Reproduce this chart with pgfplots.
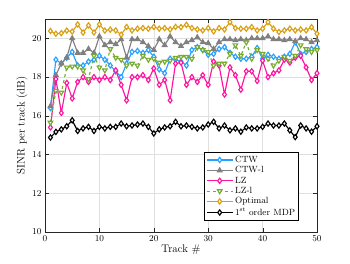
\documentclass[border=0pt]{standalone}
\usepackage{pgfplots}
\pgfplotsset{compat=1.18}
\usetikzlibrary{calc}
\definecolor{ctwc}{RGB}{40,160,255}
\definecolor{ctwlc}{RGB}{128,128,128}
\definecolor{lzc}{RGB}{255,20,160}
\definecolor{lzlc}{RGB}{119,172,48}
\definecolor{optc}{RGB}{218,160,20}
\definecolor{axc}{RGB}{38,38,38}
\begin{document}
\begin{tikzpicture}
\begin{axis}[name=ax,
  scale only axis, width=272pt, height=213pt,
  xmin=0, xmax=50, ymin=10, ymax=21,
  xtick={0,10,20,30,40,50}, ytick={10,12,14,16,18,20},
  grid=major, major grid style={color=black!12, line width=0.4pt},
  axis line style={color=axc, line width=0.6pt},
  tick style={color=axc},
  tick label style={font=\small, color=black},
  xlabel={Track \#}, ylabel={SINR per track (dB)},
  label style={font=\fontsize{11}{13}\selectfont},
  xlabel style={yshift=3pt}, ylabel style={yshift=-2pt},
  legend style={at={(0.934,0.052)}, anchor=south east, font=\small,
    draw=black, line width=0.8pt, fill=white, cells={anchor=west},
    row sep=-1.4pt, inner sep=1.5pt},
  legend image code/.code={\draw[mark repeat=2,mark phase=2,#1] plot coordinates {(0cm,0cm) (0.45cm,0cm) (0.9cm,0cm)};},
  every axis plot/.append style={line width=1.15pt, mark size=2.6pt},
]
\addplot[color=ctwc, mark=diamond*, mark options={solid, fill=white}] coordinates {
(1,16.4)(2,18.9)(3,18.7)(4,19.0)(5,19.3)(6,18.6)(7,18.6)(8,18.8)(9,18.9)(10,19.1)
(11,18.9)(12,18.6)(13,18.3)(14,18.0)(15,18.7)(16,19.3)(17,19.35)(18,19.25)(19,19.4)(20,19.05)
(21,18.4)(22,18.2)(23,18.95)(24,18.9)(25,18.8)(26,18.6)(27,19.4)(28,19.55)(29,19.4)(30,19.15)
(31,19.2)(32,19.45)(33,19.55)(34,19.25)(35,19.05)(36,18.95)(37,18.95)(38,19.05)(39,19.5)(40,18.95)
(41,19.15)(42,19.05)(43,18.95)(44,19.05)(45,19.2)(46,19.8)(47,19.2)(48,19.3)(49,19.45)(50,19.55)};
\addlegendentry{CTW}
\addplot[color=ctwlc, mark=triangle*, mark options={solid, fill=ctwlc}] coordinates {
(1,16.5)(2,18.1)(3,18.7)(4,19.0)(5,20.0)(6,19.25)(7,19.25)(8,19.45)(9,19.25)(10,20.1)
(11,19.65)(12,19.8)(13,19.7)(14,19.95)(15,19.0)(16,19.95)(17,19.95)(18,19.8)(19,19.6)(20,19.4)
(21,19.95)(22,19.65)(23,20.1)(24,19.8)(25,19.6)(26,19.8)(27,19.9)(28,20.05)(29,19.8)(30,19.75)
(31,19.45)(32,19.8)(33,19.95)(34,19.95)(35,19.9)(36,19.95)(37,19.9)(38,20.0)(39,20.0)(40,20.0)
(41,20.1)(42,19.95)(43,19.95)(44,19.9)(45,19.95)(46,19.85)(47,20.0)(48,19.95)(49,19.8)(50,19.9)};
\addlegendentry{CTW-l}
\addplot[color=lzc, mark=diamond*, mark options={solid, fill=white}] coordinates {
(1,15.4)(2,17.9)(3,16.15)(4,17.7)(5,16.9)(6,17.75)(7,18.0)(8,17.75)(9,18.0)(10,17.85)
(11,18.0)(12,17.85)(13,18.35)(14,17.6)(15,16.8)(16,18.0)(17,18.0)(18,18.1)(19,17.85)(20,18.45)
(21,17.6)(22,17.85)(23,16.8)(24,18.7)(25,18.75)(26,17.6)(27,18.0)(28,17.75)(29,18.1)(30,17.6)
(31,18.8)(32,18.6)(33,17.1)(34,18.5)(35,18.1)(36,17.35)(37,18.3)(38,18.3)(39,17.8)(40,18.85)
(41,18.0)(42,18.2)(43,18.35)(44,18.9)(45,18.75)(46,19.0)(47,19.1)(48,18.5)(49,17.85)(50,18.2)};
\addlegendentry{LZ}
\addplot[color=lzlc, dashed, mark=triangle*, mark options={solid, rotate=180, fill=white}] coordinates {
(1,15.65)(2,17.3)(3,17.2)(4,18.5)(5,18.55)(6,18.55)(7,18.35)(8,17.9)(9,19.1)(10,18.5)
(11,18.35)(12,19.45)(13,19.0)(14,18.9)(15,18.6)(16,18.7)(17,18.6)(18,19.1)(19,18.9)(20,18.95)
(21,18.75)(22,18.8)(23,18.85)(24,19.0)(25,19.05)(26,19.05)(27,18.95)(28,19.55)(29,19.4)(30,19.3)
(31,18.6)(32,18.7)(33,18.7)(34,19.2)(35,19.65)(36,19.1)(37,19.8)(38,18.95)(39,19.4)(40,19.2)
(41,18.95)(42,18.6)(43,18.85)(44,19.05)(45,18.85)(46,19.1)(47,19.65)(48,19.45)(49,19.3)(50,19.4)};
\addlegendentry{LZ-l}
\addplot[color=optc, mark=diamond*, mark options={solid, fill=white}] coordinates {
(1,20.38)(2,20.24)(3,20.27)(4,20.4)(5,20.35)(6,20.72)(7,20.3)(8,20.67)(9,20.3)(10,20.72)
(11,20.4)(12,20.45)(13,20.41)(14,20.19)(15,20.59)(16,20.41)(17,20.5)(18,20.53)(19,20.5)(20,20.59)
(21,20.5)(22,20.53)(23,20.46)(24,20.59)(25,20.58)(26,20.7)(27,20.53)(28,20.46)(29,20.41)(30,20.53)
(31,20.36)(32,20.53)(33,20.46)(34,20.84)(35,20.53)(36,20.5)(37,20.5)(38,20.58)(39,20.41)(40,20.5)
(41,20.84)(42,20.5)(43,20.33)(44,20.41)(45,20.5)(46,20.41)(47,20.46)(48,20.41)(49,20.58)(50,20.24)};
\addlegendentry{Optimal}
\addplot[color=black, mark=diamond*, mark options={solid, fill=white}] coordinates {
(1,14.88)(2,15.17)(3,15.3)(4,15.46)(5,15.77)(6,15.22)(7,15.35)(8,15.43)(9,15.22)(10,15.43)
(11,15.35)(12,15.43)(13,15.43)(14,15.6)(15,15.46)(16,15.5)(17,15.55)(18,15.6)(19,15.43)(20,15.09)
(21,15.3)(22,15.4)(23,15.46)(24,15.69)(25,15.46)(26,15.5)(27,15.43)(28,15.35)(29,15.4)(30,15.55)
(31,15.69)(32,15.35)(33,15.5)(34,15.25)(35,15.35)(36,15.18)(37,15.4)(38,15.35)(39,15.35)(40,15.43)
(41,15.6)(42,15.5)(43,15.5)(44,15.6)(45,15.25)(46,14.9)(47,15.5)(48,15.35)(49,15.18)(50,15.46)};
\addlegendentry{1$^{\mathrm{st}}$ order MDP}
\end{axis}
\pgfresetboundingbox
\path[use as bounding box] ($(ax.south west)+(-45pt,-31pt)$) rectangle ($(ax.north east)+(33pt,19pt)$);
\end{tikzpicture}
\end{document}
